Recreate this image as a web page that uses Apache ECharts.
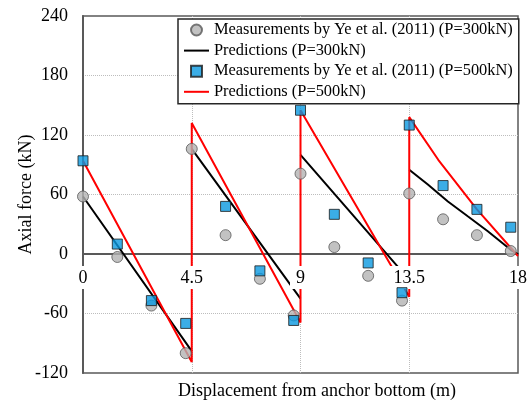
<!DOCTYPE html>
<html>
<head>
<meta charset="utf-8">
<script src="https://cdn.jsdelivr.net/npm/echarts@6/dist/echarts.min.js"></script>
<style>html,body{margin:0;padding:0;background:#fff;}#c{width:531px;height:404px;}</style>
</head>
<body>
<div id="c"></div>
<script>
// Measurement positions (m) and axial forces (kN)
const xMeas300 = [0, 1.42, 2.83, 4.25, 4.5, 5.9, 7.32, 8.72, 9, 10.4, 11.8, 13.2, 13.5, 14.9, 16.3, 17.7];
const yMeas300 = [58, -3, -52, -100, 106, 19, -25, -62, 81, 7, -22, -47, 61, 35, 19, 3];
const xMeas500 = [0, 1.42, 2.83, 4.25, 5.9, 7.32, 8.72, 9, 10.4, 11.8, 13.2, 13.5, 14.9, 16.3, 17.7];
const yMeas500 = [94, 10, -47, -70, 48, -17, -67, 145, 40, -9, -39, 130, 69, 45, 27];
// Predictions (null = break in line)
const xPred300 = [0, 4.5, 4.5, 4.5, 9, 9, 9, 13.5, 13.5, 13.5, 14.27, 15.1, 15.92, 16.75, 17.71, 18];
const yPred300 = [58, -98, null, 106, -45, null, 100, -26, null, 85, 70, 53, 38, 23, 4, 0];
const xPred500 = [0, 4.5, 4.5, 9, 9, 13.5, 13.5, 14.7, 16.3, 18];
const yPred500 = [94, -109, 132, -69, 145, -43, 138, 95, 45, -2];
// Axes
const xTicks = [0, 4.5, 9, 13.5, 18];
const yMin = -120, yMax = 240, yStep = 60;

const names = [
  'Measurements by Ye et al. (2011) (P=300kN)',
  'Predictions (P=300kN)',
  'Measurements by Ye et al. (2011) (P=500kN)',
  'Predictions (P=500kN)'
];
const FONT = 'Liberation Serif';
const pair = (xs, ys) => xs.map((x, i) => [x, ys[i] === null ? '-' : ys[i]]);
const SQUARE = 'path://M0,0L10,0L10,10L0,10Z';

const W = 531, H = 404;
const G = {left: 83, right: 13, top: 16, bottom: 31};
const plotH = H - G.top - G.bottom;
// lift the x axis from the bottom edge up to the y = 0 line
const zeroOffset = -plotH * (0 - yMin) / (yMax - yMin);

const xBase = {
  type: 'value', min: xTicks[0], max: xTicks[xTicks.length - 1], interval: 4.5,
  position: 'bottom', offset: zeroOffset
};

const chart = echarts.init(document.getElementById('c'), null, {renderer: 'canvas'});
chart.setOption({
  animation: false,
  backgroundColor: '#fff',
  grid: Object.assign({show: true, containLabel: false, outerBoundsMode: 'none', borderColor: '#595959', borderWidth: 1.5, backgroundColor: 'transparent'}, G),
  xAxis: [Object.assign({}, xBase, {
    z: 0,
    axisLine: {show: true, onZero: false, lineStyle: {color: '#595959', width: 2}},
    axisTick: {show: false},
    axisLabel: {show: false},
    splitLine: {show: true, showMinLine: false, showMaxLine: false, lineStyle: {type: 'dotted', color: '#bdbdbd', width: 1}}
  }), Object.assign({}, xBase, {
    z: 5,
    axisLine: {show: false, onZero: false},
    axisTick: {show: false},
    splitLine: {show: false},
    axisLabel: {
      show: true, margin: 12, color: '#000', fontFamily: FONT, fontSize: 18,
      backgroundColor: '#fff', padding: [3, 6, 2, 6],
      formatter: v => String(v)
    }
  })],
  yAxis: {
    type: 'value', min: yMin, max: yMax, interval: yStep,
    name: 'Axial force (kN)', nameLocation: 'middle', nameGap: 48, nameRotate: 90, nameMoveOverlap: false,
    nameTextStyle: {color: '#000', fontFamily: FONT, fontSize: 18},
    axisLine: {show: true, lineStyle: {color: '#595959', width: 2}},
    axisTick: {show: false},
    axisLabel: {margin: 15, color: '#000', fontFamily: FONT, fontSize: 18},
    splitLine: {show: true, showMinLine: false, showMaxLine: false, lineStyle: {type: 'dotted', color: '#bdbdbd', width: 1}}
  },
  graphic: [{
    type: 'text', x: 317, y: 391, z: 10,
    style: {text: 'Displacement from anchor bottom (m)', fill: '#000', font: '18px "Liberation Serif"', textAlign: 'center', textVerticalAlign: 'middle'}
  }],
  legend: {
    orient: 'vertical', left: 178, top: 19, z: 20,
    data: [
      {name: names[0]},
      {name: names[1], itemStyle: {opacity: 0}},
      {name: names[2]},
      {name: names[3], itemStyle: {opacity: 0}}
    ],
    padding: [3, 6, 4, 5], itemGap: 4.6, itemWidth: 25, itemHeight: 11,
    backgroundColor: '#fff', borderColor: '#262626', borderWidth: 1.5, borderRadius: 0,
    textStyle: {color: '#000', fontFamily: FONT, fontSize: 16.4}
  },
  series: [{
    name: names[0], type: 'scatter', z: 6,
    symbol: 'circle', symbolSize: 11,
    itemStyle: {color: '#b3b3b3', borderColor: '#595959', borderWidth: 1},
    data: pair(xMeas300, yMeas300)
  }, {
    name: names[1], type: 'line', z: 2, symbol: 'none', showSymbol: false, connectNulls: false,
    lineStyle: {color: '#000', width: 2}, itemStyle: {color: '#000'},
    data: pair(xPred300, yPred300)
  }, {
    name: names[2], type: 'scatter', z: 7,
    symbol: SQUARE, symbolKeepAspect: true, symbolSize: 10,
    itemStyle: {color: '#0a98e0', borderColor: '#1a1a1a', borderWidth: 1},
    data: pair(xMeas500, yMeas500)
  }, {
    name: names[3], type: 'line', z: 3, symbol: 'none', showSymbol: false,
    lineStyle: {color: '#ff0000', width: 2}, itemStyle: {color: '#ff0000'},
    data: pair(xPred500, yPred500)
  }]
});
</script>
</body>
</html>
